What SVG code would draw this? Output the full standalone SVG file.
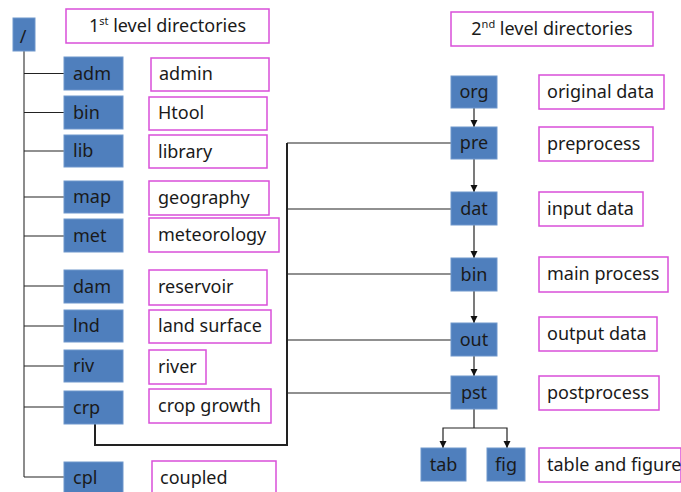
<svg xmlns="http://www.w3.org/2000/svg" width="681" height="492" viewBox="0 0 681 492">
<style>
.n{fill:#4f7fbd;stroke:#6f97cc;stroke-width:1}
.l{fill:#fff;stroke:#d94fd9;stroke-width:1.5}
.t{font-family:"Noto Sans","Liberation Sans",sans-serif;font-size:18px;fill:#1a1a1a}
.c{text-anchor:middle}
.ln{fill:none;stroke:#222;stroke-width:1.2}
.tr{fill:none;stroke:#666;stroke-width:1.5}
</style>
<defs>
<marker id="a" markerWidth="8" markerHeight="8" refX="7" refY="4" orient="auto" markerUnits="userSpaceOnUse">
<path d="M0,0.5 L7,4 L0,7.5 Z" fill="#111"/>
</marker>
</defs>
<rect width="681" height="492" fill="#fff"/>
<g id="connectors">
<path class="tr" d="M24,51 V477"/>
<path class="ln" d="M24,73.5 H64 M24,112.5 H64 M24,151 H64 M24,197 H64 M24,236 H64 M24,286 H64 M24,326 H64 M24,366 H64 M24,407 H64 M24,477 H64"/>
<path fill="none" stroke="#222" stroke-width="2" d="M95,424 V445 H287 V143"/>
<path class="ln" d="M287,143 H451 M287,209 H451 M287,274 H451 M287,340 H451 M287,393 H451"/>
<path class="ln" marker-end="url(#a)" d="M474,108 V127"/>
<path class="ln" marker-end="url(#a)" d="M474,159 V192"/>
<path class="ln" marker-end="url(#a)" d="M474,225 V258"/>
<path class="ln" marker-end="url(#a)" d="M474,291 V323"/>
<path class="ln" marker-end="url(#a)" d="M474,356 V376"/>
<path class="ln" d="M474,409 V428"/>
<path class="ln" marker-end="url(#a)" d="M474,428 H443 V448"/>
<path class="ln" marker-end="url(#a)" d="M474,428 H507 V448"/>
</g>
<g id="root"><rect class="n" x="13" y="18" width="22" height="33"/><text class="t c" x="23" y="43" font-size="21">/</text></g>
<g id="title1"><rect class="l" x="66" y="9" width="203" height="34"/><text class="t c" x="167.5" y="32">1<tspan font-size="11" dy="-7">st</tspan><tspan dy="7"> level directories</tspan></text></g>
<g id="title2"><rect class="l" x="451" y="12" width="202" height="34"/><text class="t c" x="552" y="35">2<tspan font-size="11" dy="-7">nd</tspan><tspan dy="7"> level directories</tspan></text></g>

<g id="adm"><rect class="n" x="64" y="57" width="59" height="33"/><text class="t" x="73" y="79.5">adm</text></g>
<g id="adm-label"><rect class="l" x="151" y="58" width="118" height="33"/><text class="t" x="159" y="80">admin</text></g>
<g id="bin1"><rect class="n" x="64" y="96" width="59" height="33"/><text class="t" x="73" y="118.5">bin</text></g>
<g id="bin1-label"><rect class="l" x="149" y="97" width="118" height="33"/><text class="t" x="158" y="119">Htool</text></g>
<g id="lib"><rect class="n" x="64" y="135" width="59" height="32"/><text class="t" x="73" y="157">lib</text></g>
<g id="lib-label"><rect class="l" x="149" y="135" width="118" height="33"/><text class="t" x="158" y="157.5">library</text></g>
<g id="map"><rect class="n" x="64" y="181" width="59" height="32"/><text class="t" x="73" y="203">map</text></g>
<g id="map-label"><rect class="l" x="149" y="181" width="120" height="34"/><text class="t" x="158" y="203.5">geography</text></g>
<g id="met"><rect class="n" x="64" y="219" width="59" height="33"/><text class="t" x="73" y="241.5">met</text></g>
<g id="met-label"><rect class="l" x="149" y="218" width="130" height="34"/><text class="t" x="158" y="240.5">meteorology</text></g>
<g id="dam"><rect class="n" x="64" y="270" width="59" height="33"/><text class="t" x="73" y="292.5">dam</text></g>
<g id="dam-label"><rect class="l" x="149" y="270" width="118" height="35"/><text class="t" x="158" y="293">reservoir</text></g>
<g id="lnd"><rect class="n" x="64" y="310" width="59" height="32"/><text class="t" x="73" y="332">lnd</text></g>
<g id="lnd-label"><rect class="l" x="149" y="310" width="122" height="33"/><text class="t" x="158" y="332">land surface</text></g>
<g id="riv"><rect class="n" x="64" y="350" width="59" height="32"/><text class="t" x="73" y="372">riv</text></g>
<g id="riv-label"><rect class="l" x="149" y="350" width="57" height="34"/><text class="t" x="158" y="372.5">river</text></g>
<g id="crp"><rect class="n" x="64" y="391" width="59" height="33"/><text class="t" x="73" y="413.5">crp</text></g>
<g id="crp-label"><rect class="l" x="149" y="389" width="122" height="34"/><text class="t" x="158" y="411.5">crop growth</text></g>
<g id="cpl"><rect class="n" x="64" y="462" width="59" height="33"/><text class="t" x="73" y="484">cpl</text></g>
<g id="cpl-label"><rect class="l" x="152" y="461" width="124" height="34"/><text class="t" x="160" y="484">coupled</text></g>

<g id="org"><rect class="n" x="451" y="76" width="46" height="32"/><text class="t c" x="474" y="98">org</text></g>
<g id="org-label"><rect class="l" x="539" y="75" width="125" height="34"/><text class="t" x="547" y="97.5">original data</text></g>
<g id="pre"><rect class="n" x="451" y="127" width="46" height="32"/><text class="t c" x="474" y="149">pre</text></g>
<g id="pre-label"><rect class="l" x="539" y="127" width="114" height="34"/><text class="t" x="547" y="149.5">preprocess</text></g>
<g id="dat"><rect class="n" x="451" y="192" width="46" height="33"/><text class="t c" x="474" y="214.5">dat</text></g>
<g id="dat-label"><rect class="l" x="539" y="192" width="104" height="34"/><text class="t" x="547" y="214.5">input data</text></g>
<g id="bin2"><rect class="n" x="451" y="258" width="46" height="33"/><text class="t c" x="474" y="280.5">bin</text></g>
<g id="bin2-label"><rect class="l" x="539" y="257" width="129" height="35"/><text class="t" x="547" y="280">main process</text></g>
<g id="out"><rect class="n" x="451" y="323" width="46" height="33"/><text class="t c" x="474" y="345.5">out</text></g>
<g id="out-label"><rect class="l" x="539" y="317" width="118" height="34"/><text class="t" x="547" y="339.5">output data</text></g>
<g id="pst"><rect class="n" x="451" y="376" width="46" height="33"/><text class="t c" x="474" y="398.5">pst</text></g>
<g id="pst-label"><rect class="l" x="539" y="376" width="120" height="34"/><text class="t" x="547" y="398.5">postprocess</text></g>
<g id="tab"><rect class="n" x="421" y="448" width="45" height="33"/><text class="t c" x="443.5" y="470.5">tab</text></g>
<g id="fig"><rect class="n" x="487" y="448" width="38" height="33"/><text class="t c" x="506" y="470.5">fig</text></g>
<g id="fig-label"><rect class="l" x="539" y="448" width="142" height="34"/><text class="t" x="547" y="470.5">table and figure</text></g>
</svg>
